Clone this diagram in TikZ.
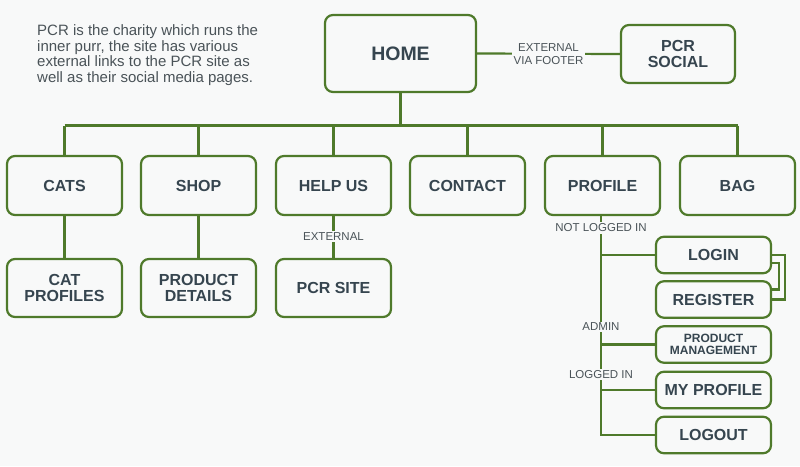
\documentclass[tikz,border=0pt]{standalone}
\usepackage{fontspec}
\setmainfont{Liberation Sans}
\usepackage{xcolor}
\usepackage{tikz}
\usetikzlibrary{positioning}
\definecolor{pageback}{HTML}{F8F9F9}
\definecolor{leaf}{HTML}{4F7A2B}
\definecolor{slate}{HTML}{36454F}
\definecolor{greyish}{HTML}{4A5358}
\newcommand{\boxfont}[1]{\fontsize{#1}{15.7}\selectfont\bfseries}

\begin{document}
\begin{tikzpicture}[
    x=1pt, y=-1pt,
    box/.style={draw=leaf, line width=2.2pt, rounded corners=8pt, fill=pageback,
      text=slate, align=center, font=\boxfont{16},
      minimum width=115pt, minimum height=59pt, inner sep=2pt},
    small/.style={box, minimum height=36.5pt},
    lbl/.style={fill=pageback, text=greyish, align=center, inner sep=1.5pt,
      font=\fontsize{11.5}{13}\selectfont},
    link/.style={draw=leaf, line width=2.2pt}]

  \fill[pageback] (0,0) rectangle (800,466);
  \useasboundingbox (0,0) rectangle (800,466);

  \node[anchor=north west, inner sep=0pt, align=left, text=greyish,
    font=\fontsize{15}{15.5}\selectfont] (intro) at (37,24.5)
    {PCR is the charity which runs the\\ inner purr, the site has various\\
     external links to the PCR site as\\ well as their social media pages.};

  \node[box, minimum width=151pt, minimum height=77pt, font=\boxfont{19.5}] (home) at (400.5,53.5) {HOME};
  \node[box, minimum width=114pt, minimum height=58pt] (social) at (678,54) {PCR\\ SOCIAL};
  \draw[link] (home.east) -- (social.west)
    node[lbl, midway] (footer) {EXTERNAL\\ VIA FOOTER};

  \node[box] (cats) at (64.5,185.5) {CATS};
  \node[box] (shop) at (198.5,185.5) {SHOP};
  \node[box] (helpus) at (333.5,185.5) {HELP US};
  \node[box] (contact) at (467.5,185.5) {CONTACT};
  \node[box] (profile) at (602.5,185.5) {PROFILE};
  \node[box] (bag) at (737.5,185.5) {BAG};

  \coordinate (bus) at (400.5,125.5);
  \draw[link] (home.south) -- (bus);
  \draw[link] (bus -| cats.north) -- (bus -| bag.north);
  \foreach \n in {cats,shop,helpus,contact,profile,bag}
    \draw[link] (bus -| \n.north) -- (\n.north);

  \node[box, minimum height=58pt] (catprofiles) at (64.5,288) {CAT\\ PROFILES};
  \node[box, minimum height=58pt] (details) at (198.5,288) {PRODUCT\\ DETAILS};
  \node[box, minimum height=58pt] (pcrsite) at (333.5,288) {PCR SITE};
  \draw[link] (cats.south) -- (catprofiles.north);
  \draw[link] (shop.south) -- (details.north);
  \draw[link] (helpus.south) -- (pcrsite.north)
    node[lbl, pos=0.48] (external) {EXTERNAL};

  \node[small] (login) at (713.5,255) {LOGIN};
  \node[small] (register) at (713.5,299.5) {REGISTER};
  \node[small, font=\fontsize{12}{12.5}\selectfont\bfseries] (manage) at (713.5,344.5) {PRODUCT\\ MANAGEMENT};
  \node[small] (myprofile) at (713.5,390) {MY PROFILE};
  \node[small] (logout) at (713.5,435) {LOGOUT};

  \coordinate (trunk) at (601,215);
  \draw[link] (profile.south -| trunk) -- (logout.west -| trunk) -- (logout.west);
  \foreach \n in {login,manage,myprofile}
    \draw[link] (\n.west -| trunk) -- (\n.west);
  \draw[link] (login.east) -- ++(13,0) |- (register.east);
  \draw[link] ([yshift=-8pt]login.east) -- ++(7,0) |- ([yshift=10pt]register.east);

  \node[lbl] (notlogged) at (601,228) {NOT LOGGED IN};
  \node[lbl] (admin) at (601,327) {ADMIN};
  \node[lbl] (loggedin) at (601,374.5) {LOGGED IN};
\end{tikzpicture}
\end{document}
